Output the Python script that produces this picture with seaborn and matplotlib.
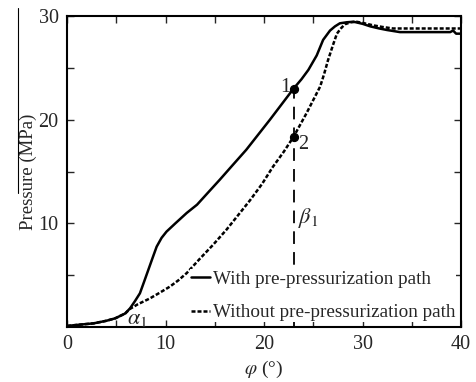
import matplotlib
matplotlib.use("Agg")
import matplotlib.pyplot as plt
from matplotlib.lines import Line2D
from matplotlib.ticker import FixedLocator
import seaborn as sns
import pandas as pd

# data
phi_with = [0, 1.0, 2.7, 4.0, 4.9, 5.9, 6.4, 6.9, 7.4, 7.8, 8.25, 8.7, 9.1, 9.6, 10.1, 11.0, 12.15, 13.2,
            14.3, 15.5, 16.8, 18.2, 19.4, 20.6, 21.8, 23.0, 23.8, 24.5, 25.35, 26.0, 26.7, 27.2, 27.7,
            28.4, 29.1, 30.0, 30.8, 31.7, 32.5, 33.8, 36.0, 38.9, 39.2, 39.5, 40.0]
p_with = [0.1, 0.2, 0.35, 0.6, 0.84, 1.3, 1.8, 2.5, 3.25, 4.3, 5.5, 6.7, 7.75, 8.6, 9.2, 10.0, 11.0, 11.8,
          12.95, 14.2, 15.6, 17.1, 18.55, 20.0, 21.5, 23.0, 23.9, 24.8, 26.2, 27.7, 28.6, 29.0, 29.3,
          29.4, 29.45, 29.25, 29.0, 28.8, 28.65, 28.45, 28.45, 28.45, 28.6, 28.3, 28.3]

phi_without = [0, 1.0, 2.7, 4.0, 4.9, 5.9, 6.4, 7.2, 8.4, 9.4, 10.45, 11.3, 12.15, 13.5, 14.8, 16.2, 17.55,
               18.6, 19.8, 20.9, 22.0, 23.0, 24.3, 25.0, 25.7, 26.1, 26.5, 27.0, 27.4, 27.8, 28.2,
               28.8, 29.4, 30.2, 31.1, 32.0, 33.1, 35.0, 38.0, 40.0]
p_without = [0.1, 0.2, 0.35, 0.6, 0.84, 1.3, 1.75, 2.2, 2.75, 3.3, 3.9, 4.5, 5.2, 6.6, 7.9, 9.4, 11.0,
             12.25, 13.8, 15.45, 16.9, 18.35, 20.6, 21.9, 23.2, 24.4, 25.75, 27.2, 28.3, 28.8, 29.2,
             29.4, 29.45, 29.3, 29.1, 28.95, 28.8, 28.8, 28.8, 28.8]

labels = ["With pre-pressurization path", "Without pre-pressurization path"]
beta_phi = 23.0
point_p = [23.0, 18.35]
point_labels = ["1", "2"]

sns.set_style("ticks")
plt.rcParams["font.family"] = ["Liberation Serif", "DejaVu Serif"]
plt.rcParams["mathtext.fontset"] = "stix"

df = pd.concat([
    pd.DataFrame({"phi": phi_with, "p": p_with, "case": labels[0]}),
    pd.DataFrame({"phi": phi_without, "p": p_without, "case": labels[1]}),
])

fig = plt.figure(figsize=(4.77, 3.82), dpi=100)
ax = fig.add_axes([0.1405, 0.144, 0.826, 0.814])

sns.lineplot(data=df, x="phi", y="p", hue="case", style="case",
             palette=["black", "black"], dashes=[(None, None), (1.6, 0.8)],
             linewidth=1.8, ax=ax, legend=False, sort=False, estimator=None)

# beta line and points
ax.plot([beta_phi, beta_phi], [0, point_p[0]], color="black", lw=1.3,
        dashes=(7, 4.5), zorder=1)
ax.scatter([beta_phi, beta_phi], point_p, s=32, color="black", zorder=5)
ax.text(beta_phi - 0.35, point_p[0] + 0.1, point_labels[0], ha="right", va="center", fontsize=14.5)
ax.text(beta_phi + 0.5, point_p[1] - 0.7, point_labels[1], ha="left", va="center", fontsize=14.5)
ax.text(23.5, 10.5, r"$\beta_{\mathrm{1}}$", fontsize=16, ha="left", va="center")
ax.text(6.1, 0.75, r"$\alpha_{\mathrm{1}}$", fontsize=16, ha="left", va="center")

handles = [Line2D([], [], color="black", lw=1.8),
           Line2D([], [], color="black", lw=1.8, dashes=(1.6, 0.8))]
leg = ax.legend(handles, labels, loc="lower right", frameon=True, fontsize=13.8,
                handlelength=1.0, handletextpad=0.15, borderpad=0.05, labelspacing=0.85,
                borderaxespad=0.25, fancybox=False)
leg.get_frame().set_edgecolor("none")
leg.get_frame().set_facecolor("white")
leg.get_frame().set_alpha(1.0)
leg.set_zorder(3)

ax.set_xlim(0, 40)
ax.set_ylim(0, 30)
ax.xaxis.set_major_locator(FixedLocator([0, 10, 20, 30, 40]))
ax.xaxis.set_minor_locator(FixedLocator([5, 15, 25, 35]))
ax.yaxis.set_major_locator(FixedLocator([10, 20, 30]))
ax.yaxis.set_minor_locator(FixedLocator([5, 15, 25]))
ax.tick_params(which="both", direction="in", top=True, right=True, length=5, width=1.0,
               labelsize=14.5, pad=6)
for s in ax.spines.values():
    s.set_visible(True)
    s.set_linewidth(1.5)
    s.set_color("black")

ax.set_xlabel(r"$\varphi$ (°)", fontsize=14, labelpad=3)
ax.set_ylabel("Pressure (MPa)", fontsize=13.5, labelpad=1)

# thin vertical line to the left of the y label (present in reference)
fig.add_artist(Line2D([18 / 477, 18 / 477], [1 - 8 / 382, 1 - 193 / 382],
                      color="black", lw=0.8, transform=fig.transFigure))

fig.savefig("out.png", dpi=100)
